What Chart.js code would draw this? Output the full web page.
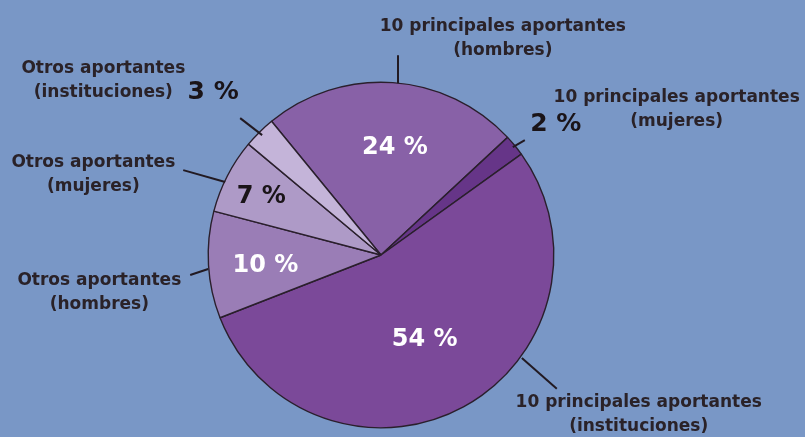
<!DOCTYPE html>
<html><head><meta charset="utf-8">
<script src="https://cdn.jsdelivr.net/npm/chart.js@4/dist/chart.umd.min.js"></script>
<style>html,body{margin:0;padding:0;background:#7997c6;}#w{width:805px;height:437px;}</style>
</head><body><div id="w"><canvas id="c"></canvas></div>
<script>
const categories = [
  ["10 principales aportantes","(hombres)"],
  ["10 principales aportantes","(mujeres)"],
  ["10 principales aportantes","(instituciones)"],
  ["Otros aportantes","(hombres)"],
  ["Otros aportantes","(mujeres)"],
  ["Otros aportantes","(instituciones)"]
];
const shares = [24, 2, 54, 10, 7, 3];
const colors = ["#8861a7","#663588","#7b4999","#9a7db6","#ae9ac7","#c4b4d9"];

// layout (pixel offsets from pie centre, at reference radius 173)
const inside = {0:{r:0.65,da:3.2,c:"#ffffff"},2:{r:0.53,da:0,c:"#ffffff"},3:{r:0.67,da:0,c:"#ffffff"},4:{r:0.78,da:0,c:"#1a1418"}};
const outsidePct = {1:[175,-131],5:[-168,-163]};
const leaders = {0:[17,-200,17,-172],1:[132,-108,144,-115],2:[141,103,176,134],3:[-191,20,-173,14],4:[-198,-85,-156,-73],5:[-141,-137,-119,-120]};
const textPos = {0:[122,-230],1:[296,-159],2:[258,147],3:[-282,25],4:[-288,-94],5:[-278,-188]};

const FONT = '"DejaVu Sans", sans-serif';
const labelPlugin = {
  id:'labels',
  afterDatasetsDraw(chart){
    const ctx = chart.ctx;
    const meta = chart.getDatasetMeta(0);
    meta.data.forEach((arc,i)=>{
      const p = arc.getProps(['x','y','startAngle','endAngle','outerRadius'],true);
      const k = p.outerRadius/173;
      const mid = (p.startAngle+p.endAngle)/2;
      const pct = shares[i]+' %';
      ctx.save();
      ctx.textAlign='center'; ctx.textBaseline='middle';
      if(inside[i]){
        const a = mid + inside[i].da*Math.PI/180;
        ctx.font='bold 24px '+FONT; ctx.fillStyle=inside[i].c;
        ctx.fillText(pct, p.x+Math.cos(a)*p.outerRadius*inside[i].r, p.y+Math.sin(a)*p.outerRadius*inside[i].r+4);
      }
      if(outsidePct[i]){
        ctx.font='bold 25px '+FONT; ctx.fillStyle='#1a1418';
        ctx.fillText(pct, p.x+outsidePct[i][0]*k, p.y+outsidePct[i][1]*k);
      }
      const L = leaders[i];
      ctx.strokeStyle='#221a22'; ctx.lineWidth=2;
      ctx.beginPath(); ctx.moveTo(p.x+L[0]*k,p.y+L[1]*k); ctx.lineTo(p.x+L[2]*k,p.y+L[3]*k); ctx.stroke();
      ctx.font='bold 17px '+FONT; ctx.fillStyle='#2a2228';
      const t = textPos[i];
      categories[i].forEach((line,j)=>{
        ctx.fillText(line, p.x+t[0]*k, p.y+t[1]*k+j*24+1);
      });
      ctx.restore();
    });
  }
};

new Chart(document.getElementById('c'),{
  type:'pie',
  data:{labels:categories.map(c=>c.join(' ')),datasets:[{data:shares,backgroundColor:colors,borderColor:'#2a1f2c',borderWidth:1.4,hoverOffset:0}]},
  options:{
    responsive:true,maintainAspectRatio:false,animation:false,
    rotation:-39.3,
    layout:{padding:{left:207.5,right:250.5,top:81.5,bottom:8.5}},
    plugins:{legend:{display:false},tooltip:{enabled:false}}
  },
  plugins:[labelPlugin]
});
</script></body></html>
